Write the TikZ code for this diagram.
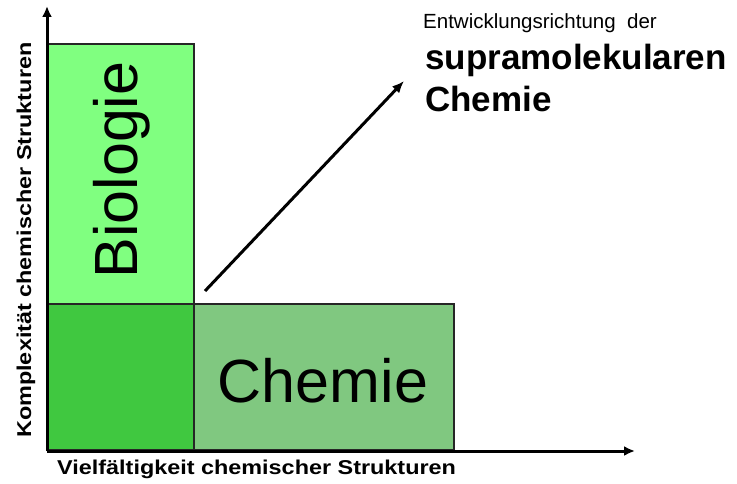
\documentclass[tikz,border=0pt]{standalone}
\usepackage{fontspec}
\setmainfont{Liberation Sans}
\usetikzlibrary{arrows.meta}
\definecolor{bioGreen}{HTML}{80FF80}
\definecolor{chemGreen}{HTML}{80C880}
\definecolor{bothGreen}{HTML}{40C840}
\tikzset{
  field/.style={draw=black!85, line width=1.5pt, inner sep=0pt, outer sep=0pt},
  axis/.style={line width=3pt, -{Latex[length=11pt,width=10pt]}},
  trend/.style={line width=3pt, -{Latex[length=12pt,width=10pt]}},
  axislabel/.style={font=\bfseries\fontsize{20}{24}\selectfont, inner sep=0pt},
  bigword/.style={font=\fontsize{61}{72}\selectfont, inner sep=0pt}
}
\begin{document}
\begin{tikzpicture}[x=1pt,y=-1pt]
\useasboundingbox (0,0) rectangle (737,484);
% fields
\node[field, fill=bioGreen, minimum width=147pt, minimum height=260pt, anchor=north west] (bio) at (47,44) {};
\node[field, fill=chemGreen, minimum width=260pt, minimum height=146pt, anchor=north west] (chem) at (194,304) {};
\node[field, fill=bothGreen, minimum width=147pt, minimum height=146pt, anchor=north west] (both) at (47,304) {};
\node[bigword, rotate=90] (biotext) at (122,170) {Biologie};
\node[bigword] (chemtext) at (323,381) {Chemie};
% axes
\coordinate (origin) at (47,451);
\coordinate (ytip) at (47,6);
\coordinate (xtip) at (635,451);
\draw[axis] (origin) -- (ytip);
\draw[axis] (origin) -- (xtip);
\node[axislabel, anchor=base west] (xlabel) at (57,474) {\scalebox{1.17}[1]{Vielfältigkeit chemischer Strukturen}};
\node[axislabel, rotate=90, anchor=base west] (ylabel) at (31,438) {\scalebox{1.17}[1]{Komplexität chemischer Strukturen}};
% direction of development
\coordinate (trendstart) at (205,291);
\coordinate (trendend) at (404,81);
\draw[trend] (trendstart) -- (trendend);
\node[anchor=base west, inner sep=0pt, font=\fontsize{20.5}{24}\selectfont] (entw) at (423,29) {Entwicklungsrichtung\ \ der};
\node[anchor=base west, inner sep=0pt, font=\bfseries\fontsize{35}{40}\selectfont] (supra) at (425,70) {supramolekularen};
\node[anchor=base west, inner sep=0pt, font=\bfseries\fontsize{35}{40}\selectfont] (chemie2) at (425,112) {Chemie};
\end{tikzpicture}
\end{document}
